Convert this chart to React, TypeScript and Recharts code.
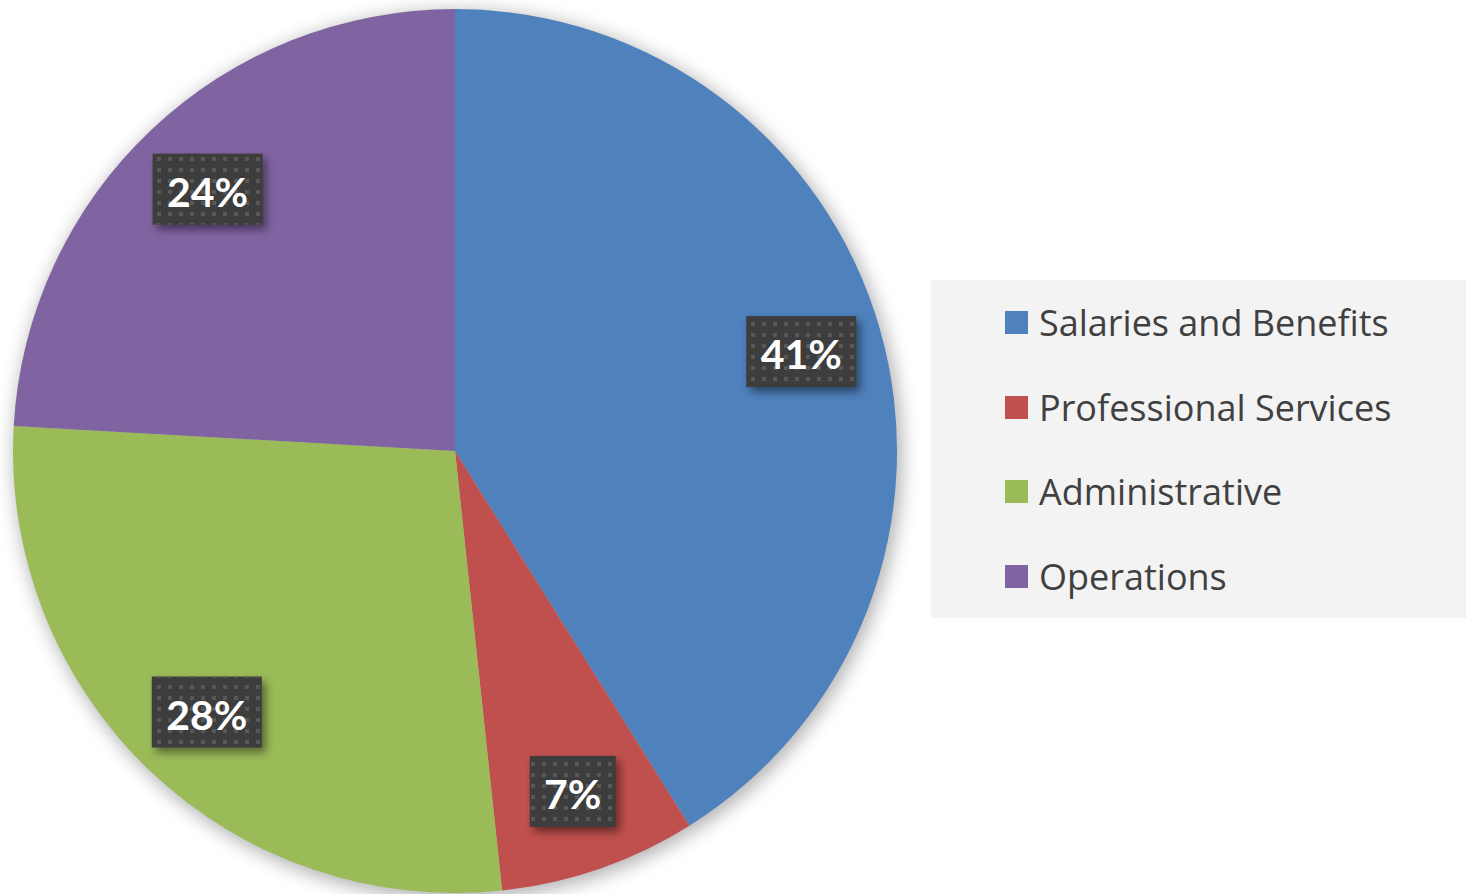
import React from 'react';
import { PieChart, Pie, Cell, Legend, Sector } from 'recharts';

const categories = ['Salaries and Benefits', 'Professional Services', 'Administrative', 'Operations'];
const values = [41.1, 7.2, 27.6, 24.1];
const colors = ['#4F81BD', '#C0504D', '#9BBB59', '#8064A2'];

const data = categories.map((name, i) => ({ name, value: values[i] }));
const RAD = Math.PI / 180;
const LABEL_FONT = 'Lato, "Open Sans", sans-serif';
const LEGEND_FONT = '"Open Sans", "Noto Sans", sans-serif';

const renderLabel = (props: any) => {
  const { cx, cy, midAngle, outerRadius, percent, index } = props;
  const r = outerRadius * 0.815;
  const x = cx + r * Math.cos(-midAngle * RAD);
  const y = cy + r * Math.sin(-midAngle * RAD);
  const text = `${Math.round(percent * 100)}%`;
  const w = text.length <= 2 ? 86 : 110;
  const h = 71;
  return (
    <g key={`lbl-${index}`}>
      {index === 0 && (
        <defs>
          <pattern id="dots" x="0" y="0" width="11" height="11" patternUnits="userSpaceOnUse">
            <rect x="3" y="3" width="4" height="4" fill="#575757" />
          </pattern>
          <filter id="lblShadow" x="-30%" y="-30%" width="160%" height="160%">
            <feGaussianBlur stdDeviation="4" />
          </filter>
        </defs>
      )}
      <rect x={x - w / 2 + 4} y={y - h / 2 + 5} width={w} height={h} fill="#000" opacity={0.45} filter="url(#lblShadow)" />
      <rect x={x - w / 2} y={y - h / 2} width={w} height={h} fill="#3d3d3d" />
      <rect x={x - w / 2} y={y - h / 2} width={w} height={h} fill="url(#dots)" />
      <text x={x} y={y + 2} textAnchor="middle" dominantBaseline="central" fill="#ffffff" fontWeight="bold" fontSize={41} fontFamily={LABEL_FONT}>
        {text}
      </text>
    </g>
  );
};

const shadowShape = (p: any) => (
  <Sector {...p} fill="#000" fillOpacity={0.3} stroke="none" filter="url(#pieShadow)" />
);

const LegendContent = () => (
  <div style={{ width: 535, height: 338, background: '#f3f3f3', boxSizing: 'border-box', fontFamily: LEGEND_FONT }}>
    {categories.map((c, i) => (
      <div key={c} style={{ height: 84.7, display: 'flex', alignItems: 'center', paddingLeft: 74 }}>
        <div style={{ width: 23, height: 23, background: colors[i], marginRight: 11 }} />
        <span style={{ fontSize: 36, color: '#404040', whiteSpace: 'nowrap' }}>{c}</span>
      </div>
    ))}
  </div>
);

export default function App() {
  return (
    <div style={{ position: 'absolute', left: 0, top: 0, width: 1467, height: 894, background: '#fff' }}>
      <PieChart width={1467} height={894} margin={{ top: 0, right: 0, bottom: 0, left: 0 }}>
        <defs>
          <filter id="pieShadow" x="-10%" y="-10%" width="120%" height="120%">
            <feGaussianBlur stdDeviation="9" />
          </filter>
        </defs>
        <Pie
          data={data}
          dataKey="value"
          nameKey="name"
          cx={458}
          cy={455}
          outerRadius={444}
          startAngle={90}
          endAngle={-270}
          stroke="none"
          shape={shadowShape}
          isAnimationActive={false}
          legendType="none"
        />
        <Pie
          data={data}
          dataKey="value"
          nameKey="name"
          cx={455}
          cy={451}
          outerRadius={442}
          startAngle={90}
          endAngle={-270}
          stroke="none"
          label={renderLabel}
          labelLine={false}
          isAnimationActive={false}
        >
          {data.map((d, i) => (
            <Cell key={d.name} fill={colors[i]} />
          ))}
        </Pie>
        <Legend content={<LegendContent />} wrapperStyle={{ left: 931, top: 280, width: 535, height: 338 }} />
      </PieChart>
    </div>
  );
}
